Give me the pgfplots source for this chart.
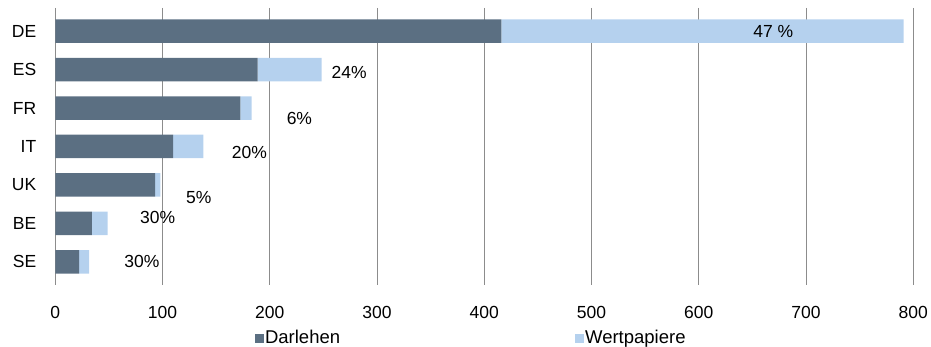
\documentclass[border=0pt]{standalone}
\usepackage{pgfplots}
\pgfplotsset{compat=1.18}
\usepackage{fontspec}
\setmainfont{Liberation Sans}
\definecolor{darl}{RGB}{91,111,130}
\definecolor{wert}{RGB}{181,209,238}
\begin{document}
\fontsize{17.5}{21}\selectfont
\begin{tikzpicture}
\begin{axis}[
  scale only axis, width=858pt, height=269pt,
  xbar stacked, bar width=23.5pt,
  xmin=0, xmax=800, ymin=-0.5, ymax=6.5,
  xtick={0,100,...,800}, ytick={0,...,6},
  yticklabels={SE,BE,UK,IT,FR,ES,DE},
  /pgf/number format/assume math mode=true,
  xmajorgrids, major grid style={draw=black!45, line width=0.9pt},
  axis line style={draw=none},
  tick align=outside, major tick length=4pt,
  xtick style={draw=black!45, line width=0.9pt},
  ytick style={draw=none},
  xticklabel style={yshift=-15pt, inner xsep=0pt},
  yticklabel style={xshift=-9pt},
  legend columns=2,
  legend style={draw=none, inner sep=0pt, outer sep=0pt, at={(axis description cs:0.4843,-0.212)}, anchor=center,
    nodes={inner xsep=1pt, inner ysep=0pt},
    /tikz/every even column/.append style={column sep=234pt},
    font=\fontsize{18.5}{21}\selectfont},
  legend image code/.code={\fill[#1] (0pt,-4.5pt) rectangle (9pt,4.5pt);},
]
\addplot[fill=darl, draw=none] coordinates {(22.1,0) (34.1,1) (93,2) (109.8,3) (172.5,4) (188.6,5) (416,6)};
\addplot[fill=wert, draw=none] coordinates {(9.5,0) (14.6,1) (5,2) (28.2,3) (10.5,4) (59.8,5) (375,6)};
\legend{Darlehen, Wertpapiere}
\coordinate (l1) at (axis cs:669.5,6);
\coordinate (l2) at (axis cs:274,4.93);
\coordinate (l3) at (axis cs:227.6,3.74);
\coordinate (l4) at (axis cs:181,2.85);
\coordinate (l5) at (axis cs:133.7,1.68);
\coordinate (l6) at (axis cs:95.5,1.16);
\coordinate (l7) at (axis cs:80.7,0);
\end{axis}
\node at (l1) {47 \%};
\node at (l2) {24\%};
\node at (l3) {6\%};
\node at (l4) {20\%};
\node at (l5) {5\%};
\node at (l6) {30\%};
\node at (l7) {30\%};
\path ([shift={(-55.3pt,12pt)}]current axis.north west) rectangle ++(931pt,-345pt);
\end{tikzpicture}
\end{document}
